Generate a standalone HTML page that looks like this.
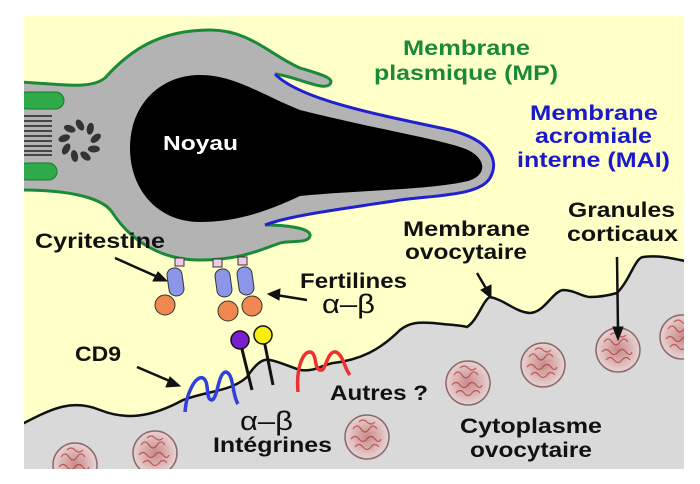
<!DOCTYPE html>
<html><head><meta charset="utf-8"><style>
html,body{margin:0;padding:0;background:#fff;}
svg{display:block;}
text{font-family:"Liberation Sans",Arial,sans-serif;font-weight:bold;}
</style></head><body>
<svg width="700" height="484" viewBox="0 0 700 484" xmlns="http://www.w3.org/2000/svg">
<defs>
<clipPath id="bg"><rect x="24" y="16" width="660" height="453"/></clipPath>
<radialGradient id="gr"><stop offset="0" stop-color="#c98a8a"/><stop offset="1" stop-color="#e9d3d3"/></radialGradient>
<g id="gran">
<circle r="22" fill="url(#gr)" stroke="#8a6a6a" stroke-width="1.5"/>
<path d="M-14,-8 q4,-6 8,0 t8,0 t8,0 M-16,2 q4,-5 8,0 t8,0 t8,0 t6,0 M-12,10 q4,-5 8,0 t8,0 t8,0 M-8,-15 q4,-4 8,0 t8,0" fill="none" stroke="#b03030" stroke-width="1.2" opacity="0.7"/>
</g>
</defs>
<rect x="24" y="16" width="660" height="453" fill="#ffffc8"/>
<g clip-path="url(#bg)">
<path d="M20,425 C50,410 70,398 100,410 C125,420 150,418 183,400 C210,390 230,392 247,377 C255,365 262,358 270,360 C280,362 285,365 300,370 C315,372 322,365 333,363 C360,360 380,350 400,330 C410,322 420,322 433,323 C450,325 460,325 467,327 C478,320 483,300 490,297 C505,300 515,312 530,313 C545,312 552,292 563,290 C575,290 582,297 590,297 C602,297 610,295 617,293 C630,280 635,258 643,257 C660,255 670,258 690,262 L690,480 L20,480 Z" fill="#d9d9d9" stroke="#111" stroke-width="2.5"/>
<use href="#gran" x="75" y="465"/>
<use href="#gran" x="155" y="453"/>
<use href="#gran" x="367" y="437"/>
<use href="#gran" x="468" y="383"/>
<use href="#gran" x="543" y="365"/>
<use href="#gran" x="618" y="350"/>
<use href="#gran" x="682" y="337"/>
<path d="M20,82 C60,84 90,90 105,78 C130,50 160,30 210,30 C250,30 270,55 300,68 C320,74 335,78 330,84 C324,92 295,76 275,74 C300,100 380,115 450,130 C490,140 500,160 490,178 C480,195 440,195 400,200 C350,208 290,215 265,225 C285,225 312,228 310,236 C308,244 290,240 280,243 C260,250 240,260 200,260 C160,260 130,240 112,212 C100,195 60,190 20,190 Z" fill="#b3b3b3"/>
<path d="M20,82 C60,84 90,90 105,78 C130,50 160,30 210,30 C250,30 270,55 300,68 C320,74 335,78 330,84 C324,92 295,76 275,74" fill="none" stroke="#1a8a3a" stroke-width="3"/>
<path d="M265,225 C285,225 312,228 310,236 C308,244 290,240 280,243 C260,250 240,260 200,260 C160,260 130,240 112,212 C100,195 60,190 20,190" fill="none" stroke="#1a8a3a" stroke-width="3"/>
<path d="M275,74 C300,100 380,115 450,130 C490,140 500,160 490,178 C480,195 440,195 400,200 C350,208 290,215 265,225" fill="none" stroke="#2020d0" stroke-width="3"/>
<path d="M200,75 C235,75 262,95 300,110 C380,130 445,140 468,150 C488,160 486,176 468,181 C430,190 360,190 300,196 C262,214 232,222 200,222 C158,222 130,190 130,148 C130,105 160,75 200,75 Z" fill="#000"/>
<text x="163" y="150" fill="#fff" font-size="20" textLength="75" lengthAdjust="spacingAndGlyphs">Noyau</text>
<rect x="18" y="92" width="46" height="17" rx="8.5" fill="#2eaa4a" stroke="#137a2a"/>
<rect x="18" y="163" width="39" height="17" rx="8.5" fill="#2eaa4a" stroke="#137a2a"/>
<g stroke="#222" stroke-width="1.6">
<line x1="24" y1="116" x2="52" y2="116"/><line x1="24" y1="121" x2="52" y2="121"/><line x1="24" y1="126" x2="52" y2="126"/><line x1="24" y1="131" x2="52" y2="131"/><line x1="24" y1="136" x2="52" y2="136"/><line x1="24" y1="141" x2="52" y2="141"/><line x1="24" y1="146" x2="52" y2="146"/><line x1="24" y1="151" x2="52" y2="151"/><line x1="24" y1="155" x2="52" y2="155"/>
</g>
<g fill="#333">
<g transform="translate(80,141)">
<ellipse cx="0" cy="-16" rx="3.5" ry="6" transform="rotate(-30 0 -16)"/>
<ellipse cx="0" cy="-16" rx="3.5" ry="6" transform="rotate(40) rotate(-30 0 -16)"/>
<ellipse cx="0" cy="-16" rx="3.5" ry="6" transform="rotate(80) rotate(-30 0 -16)"/>
<ellipse cx="0" cy="-16" rx="3.5" ry="6" transform="rotate(120) rotate(-30 0 -16)"/>
<ellipse cx="0" cy="-16" rx="3.5" ry="6" transform="rotate(160) rotate(-30 0 -16)"/>
<ellipse cx="0" cy="-16" rx="3.5" ry="6" transform="rotate(200) rotate(-30 0 -16)"/>
<ellipse cx="0" cy="-16" rx="3.5" ry="6" transform="rotate(240) rotate(-30 0 -16)"/>
<ellipse cx="0" cy="-16" rx="3.5" ry="6" transform="rotate(280) rotate(-30 0 -16)"/>
<ellipse cx="0" cy="-16" rx="3.5" ry="6" transform="rotate(320) rotate(-30 0 -16)"/>
</g></g>
</g>
<g stroke="#333" stroke-width="1">
<rect x="175" y="258" width="9" height="8" fill="#f2c8e8"/>
<rect x="168" y="268" width="15" height="28" rx="7" fill="#8c96e8" transform="rotate(-8 175 282)"/>
<circle cx="165" cy="305" r="10" fill="#f08850"/>
<rect x="213" y="259" width="9" height="8" fill="#f2c8e8"/>
<rect x="216" y="269" width="15" height="28" rx="7" fill="#8c96e8" transform="rotate(-8 223 283)"/>
<circle cx="228" cy="311" r="10" fill="#f08850"/>
<rect x="238" y="257" width="9" height="8" fill="#f2c8e8"/>
<rect x="238" y="267" width="15" height="28" rx="7" fill="#8c96e8" transform="rotate(-8 245 281)"/>
<circle cx="252" cy="306" r="10" fill="#f08850"/>
</g>
<line x1="241" y1="345" x2="252" y2="390" stroke="#111" stroke-width="3"/>
<line x1="264" y1="340" x2="273" y2="385" stroke="#111" stroke-width="3"/>
<circle cx="240" cy="340" r="9" fill="#7a1ed0" stroke="#111" stroke-width="1.5"/>
<circle cx="263" cy="335" r="9" fill="#f5ee10" stroke="#111" stroke-width="1.5"/>
<path d="M185,412 C186,395 195,375 203,378 C210,382 205,400 212,400 C218,398 218,372 226,372 C234,374 232,395 238,404" fill="none" stroke="#3040e0" stroke-width="3.5"/>
<path d="M298,392 C296,370 302,352 310,352 C318,353 313,372 322,370 C326,368 328,350 336,352 C344,356 344,368 350,375" fill="none" stroke="#f03030" stroke-width="3.5"/>
<g stroke="#111" stroke-width="2.5" fill="#111">
<line x1="115" y1="258" x2="160" y2="278"/><path d="M167,281 L153,281 L158,272 Z" stroke-width="1"/>
<line x1="307" y1="300" x2="276" y2="295"/><path d="M268,294 L280,289 L279,300 Z" stroke-width="1"/>
<line x1="137" y1="367" x2="172" y2="382"/><path d="M180,386 L166,387 L170,377 Z" stroke-width="1"/>
<line x1="477" y1="273" x2="487" y2="290"/><path d="M491,298 L481,290 L491,285 Z" stroke-width="1"/>
<line x1="617" y1="257" x2="618" y2="330"/><path d="M618,340 L613,327 L623,327 Z" stroke-width="1"/>
</g>
<g font-size="21" lengthAdjust="spacingAndGlyphs">
<text x="403" y="55" fill="#1a8a3a" textLength="127" lengthAdjust="spacingAndGlyphs">Membrane</text>
<text x="374" y="80" fill="#1a8a3a" textLength="184" lengthAdjust="spacingAndGlyphs">plasmique (MP)</text>
<text x="530" y="120" fill="#1a1acc" textLength="128" lengthAdjust="spacingAndGlyphs">Membrane</text>
<text x="535" y="143" fill="#1a1acc" textLength="117" lengthAdjust="spacingAndGlyphs">acromiale</text>
<text x="517" y="167" fill="#1a1acc" textLength="153" lengthAdjust="spacingAndGlyphs">interne (MAI)</text>
<text x="403" y="236" fill="#111" textLength="127" lengthAdjust="spacingAndGlyphs">Membrane</text>
<text x="405" y="259" fill="#111" textLength="122" lengthAdjust="spacingAndGlyphs">ovocytaire</text>
<text x="568" y="217" fill="#111" textLength="107" lengthAdjust="spacingAndGlyphs">Granules</text>
<text x="567" y="241" fill="#111" textLength="111" lengthAdjust="spacingAndGlyphs">corticaux</text>
<text x="460" y="433" fill="#111" textLength="142" lengthAdjust="spacingAndGlyphs">Cytoplasme</text>
<text x="470" y="457" fill="#111" textLength="122" lengthAdjust="spacingAndGlyphs">ovocytaire</text>
<text x="300" y="288" fill="#111" textLength="107" lengthAdjust="spacingAndGlyphs">Fertilines</text>
<text x="213" y="452" fill="#111" textLength="119" lengthAdjust="spacingAndGlyphs">Intégrines</text>
<text x="35" y="248" fill="#111" textLength="130" lengthAdjust="spacingAndGlyphs">Cyritestine</text>
<text x="75" y="361" fill="#111" textLength="46" lengthAdjust="spacingAndGlyphs">CD9</text>
<text x="330" y="400" fill="#111" textLength="98" lengthAdjust="spacingAndGlyphs">Autres ?</text>
</g>
<g font-size="27" fill="#111">
<text x="322" y="313" style="font-weight:normal" textLength="53" lengthAdjust="spacingAndGlyphs">α–β</text>
<text x="240" y="430" style="font-weight:normal" textLength="53" lengthAdjust="spacingAndGlyphs">α–β</text>
</g>
</svg>
</body></html>
